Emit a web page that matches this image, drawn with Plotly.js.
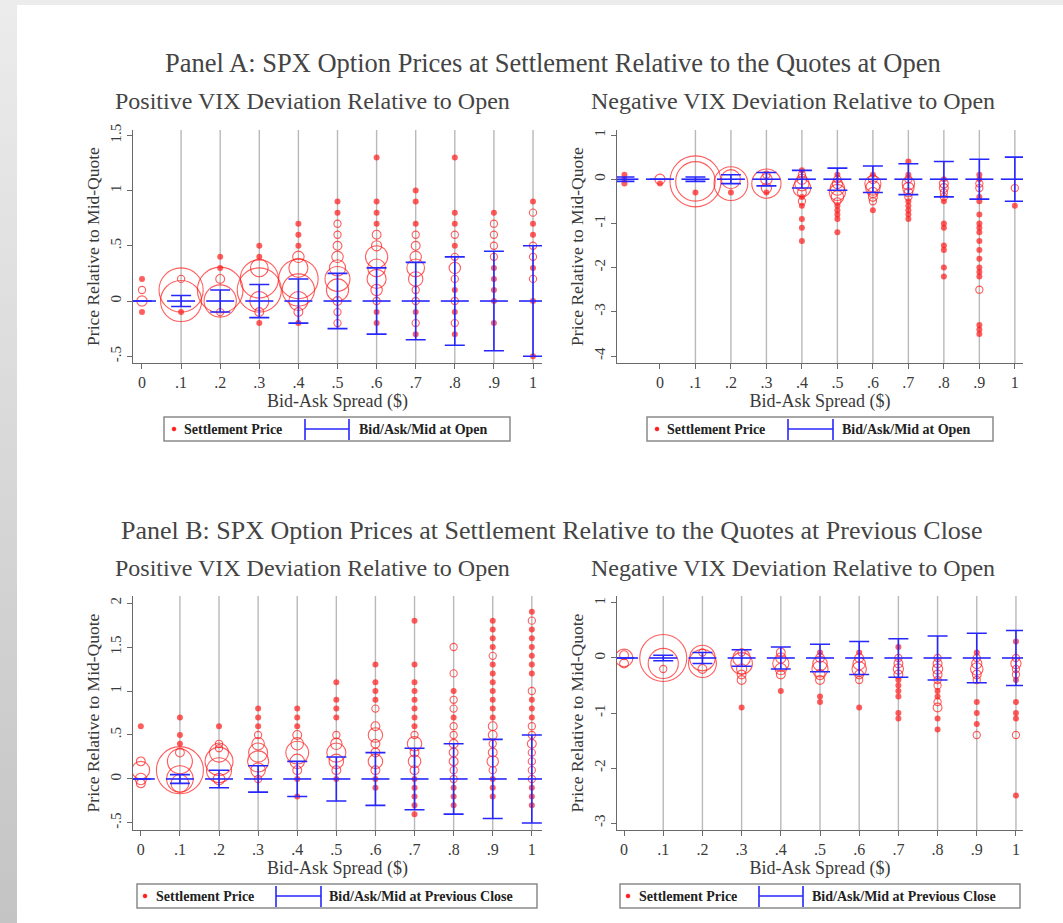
<!DOCTYPE html>
<html><head><meta charset="utf-8">
<script src="https://cdn.plot.ly/plotly-3.0.1.min.js"></script>
<style>
html,body{margin:0;padding:0;background:#fff;}
#wrap{position:relative;width:1063px;height:923px;overflow:hidden;background:#fff;}
#leftstrip{position:absolute;left:0;top:0;width:17px;height:923px;background:linear-gradient(#ececec,#c4c4c4);}
#topstrip{position:absolute;left:0;top:0;width:1063px;height:5px;background:#ececec;}
#chart{position:absolute;left:0;top:0;width:1063px;height:923px;}
</style></head><body>
<div id="wrap"><div id="leftstrip"></div><div id="topstrip"></div><div id="chart"></div></div>
<script>
// ---------- shared axis labels ----------
const spreadTicks = [0, 0.1, 0.2, 0.3, 0.4, 0.5, 0.6, 0.7, 0.8, 0.9, 1];
const spreadTickText = ['0', '.1', '.2', '.3', '.4', '.5', '.6', '.7', '.8', '.9', '1'];
const gridSpreads = [0.1, 0.2, 0.3, 0.4, 0.5, 0.6, 0.7, 0.8, 0.9, 1];

// ---------- Panel A, positive VIX deviation ----------
const aPosSpread = [0, 0.1, 0.2, 0.3, 0.4, 0.5, 0.6, 0.7, 0.8, 0.9, 1];
const aPosHalf   = [0, 0.05, 0.1, 0.15, 0.2, 0.25, 0.3, 0.35, 0.4, 0.45, 0.5];
const aPosMid    = [0, 0, 0, 0, 0, 0, 0, 0, 0, 0, 0];
const aPosY = [
  [0.2, 0.1, 0, -0.1],
  [0.2, 0.1, 0, -0.1],
  [0.4, 0.3, 0.2, 0.1, 0, -0.1],
  [0.5, 0.4, 0.3, 0.2, 0.1, 0, -0.1, -0.2],
  [0.7, 0.6, 0.5, 0.4, 0.3, 0.2, 0.1, 0, -0.1, -0.2],
  [0.9, 0.8, 0.7, 0.6, 0.5, 0.4, 0.3, 0.2, 0.1, 0, -0.1, -0.2],
  [1.3, 0.9, 0.8, 0.7, 0.6, 0.5, 0.4, 0.3, 0.2, 0.1, 0, -0.1, -0.2],
  [1.0, 0.9, 0.7, 0.6, 0.5, 0.4, 0.3, 0.2, 0.1, 0, -0.1, -0.2, -0.3],
  [1.3, 0.8, 0.7, 0.6, 0.5, 0.4, 0.3, 0.2, 0.1, 0, -0.1, -0.2, -0.3],
  [0.8, 0.7, 0.6, 0.5, 0.4, 0.3, 0.2, 0.1, 0, -0.2],
  [0.9, 0.8, 0.7, 0.6, 0.5, 0.4, 0.3, 0.2, 0, -0.5]
];
const aPosW = [
  [1, 2, 4, 1],
  [2, 75, 65, 1],
  [1, 1, 3, 80, 40, 2],
  [1, 1, 12, 56, 75, 14, 3, 1],
  [1, 1, 1, 5, 14, 60, 40, 14, 3, 1],
  [1, 1, 2, 2, 3, 5, 10, 24, 19, 3, 2, 2],
  [1, 1, 1, 1, 3, 4, 19, 12, 14, 5, 2, 1, 1],
  [1, 1, 1, 2, 3, 5, 12, 8, 2, 2, 1, 2, 1],
  [1, 1, 1, 2, 1, 2, 5, 2, 1, 2, 1, 2, 1],
  [1, 2, 2, 2, 2, 1, 1, 1, 1, 1],
  [1, 2, 1, 1, 2, 2, 1, 2, 1, 1]
];

// ---------- Panel A, negative VIX deviation ----------
const aNegSpread = [-0.1, 0, 0.1, 0.2, 0.3, 0.4, 0.5, 0.6, 0.7, 0.8, 0.9, 1];
const aNegHalf   = [0.05, 0, 0.05, 0.1, 0.15, 0.2, 0.25, 0.3, 0.35, 0.4, 0.45, 0.5];
const aNegMid    = [0, 0, 0, 0, 0, 0, 0, 0, 0, 0, 0, 0];
const aNegY = [
  [0.1, 0, -0.1],
  [0, -0.1],
  [-0.05, -0.05, -0.3],
  [0, -0.1, -0.3],
  [0.1, 0, -0.1, -0.2, -0.3],
  [0.2, 0.1, 0, -0.1, -0.2, -0.3, -0.4, -0.5, -0.6, -0.9, -1.1, -1.4],
  [0.1, 0, -0.1, -0.2, -0.3, -0.4, -0.5, -0.6, -0.7, -0.8, -0.9, -1.2],
  [0.1, 0, -0.1, -0.2, -0.3, -0.4, -0.5, -0.7],
  [0.4, 0.1, 0, -0.1, -0.2, -0.3, -0.4, -0.5, -0.6, -0.7, -0.8, -0.9],
  [0, -0.1, -0.2, -0.3, -0.4, -0.5, -1.0, -1.1, -1.5, -1.6, -2.0, -2.2],
  [0.1, 0, -0.1, -0.2, -0.4, -0.5, -0.8, -1.0, -1.1, -1.2, -1.4, -1.6, -1.8, -2.0, -2.1, -2.2, -2.5, -3.3, -3.4, -3.5],
  [-0.2, -0.6]
];
const aNegW = [
  [1, 1, 1],
  [4, 1],
  [100, 60, 1],
  [14, 44, 1],
  [2, 5, 33, 4, 1],
  [1, 2, 4, 8, 12, 3, 1, 2, 1, 1, 1, 1],
  [1, 2, 4, 8, 10, 6, 2, 1, 1, 1, 1, 1],
  [1, 3, 10, 8, 4, 3, 2, 1],
  [1, 1, 2, 6, 5, 3, 2, 1, 1, 1, 1, 1],
  [1, 3, 3, 2, 2, 1, 1, 1, 1, 1, 1, 1],
  [1, 1, 2, 2, 1, 1, 1, 1, 1, 1, 1, 1, 1, 1, 1, 1, 2, 1, 1, 1],
  [2, 1]
];

// ---------- Panel B, positive VIX deviation ----------
const bPosSpread = [0, 0.1, 0.2, 0.3, 0.4, 0.5, 0.6, 0.7, 0.8, 0.9, 1];
const bPosHalf   = [0, 0.05, 0.1, 0.15, 0.2, 0.25, 0.3, 0.35, 0.4, 0.45, 0.5];
const bPosMid    = [0, 0, 0, 0, 0, 0, 0, 0, 0, 0, 0];
const bPosY = [
  [0.6, 0.2, 0.1, 0, -0.05],
  [0.7, 0.5, 0.4, 0.3, 0.2, 0.1, 0, -0.05],
  [0.6, 0.4, 0.35, 0.3, 0.2, 0.1, 0],
  [0.8, 0.7, 0.6, 0.5, 0.4, 0.3, 0.2, 0.1, 0],
  [0.8, 0.7, 0.6, 0.5, 0.4, 0.3, 0.2, 0.1, 0, -0.2],
  [1.1, 0.9, 0.8, 0.7, 0.5, 0.4, 0.3, 0.2, 0.1, 0],
  [1.3, 1.1, 1.0, 0.9, 0.8, 0.6, 0.5, 0.4, 0.3, 0.2, 0.1, 0, -0.1],
  [1.8, 1.3, 1.1, 1.0, 0.9, 0.8, 0.7, 0.6, 0.5, 0.4, 0.3, 0.2, 0.1, 0, -0.1, -0.2, -0.3, -0.4],
  [1.5, 1.2, 1.0, 0.9, 0.8, 0.7, 0.6, 0.5, 0.4, 0.3, 0.2, 0.1, 0, -0.1, -0.2, -0.3],
  [1.8, 1.7, 1.6, 1.5, 1.4, 1.3, 1.2, 1.1, 1.0, 0.9, 0.8, 0.7, 0.6, 0.5, 0.4, 0.3, 0.2, 0.1, 0, -0.1, -0.2],
  [1.9, 1.8, 1.7, 1.6, 1.5, 1.4, 1.3, 1.2, 1.0, 0.9, 0.8, 0.7, 0.6, 0.5, 0.4, 0.3, 0.2, 0.1, 0, -0.1, -0.2, -0.3]
];
const bPosW = [
  [1, 3, 12, 5, 3],
  [1, 1, 1, 3, 24, 85, 27, 12],
  [1, 2, 2, 14, 30, 24, 5],
  [1, 1, 1, 2, 6, 14, 17, 8, 2],
  [1, 1, 1, 3, 6, 20, 8, 3, 1, 1],
  [1, 1, 1, 1, 2, 5, 14, 8, 3, 1],
  [1, 1, 1, 1, 2, 3, 8, 3, 3, 8, 3, 1, 1],
  [1, 1, 1, 1, 1, 1, 1, 1, 2, 8, 3, 6, 3, 1, 1, 1, 1, 1],
  [2, 2, 1, 2, 2, 1, 2, 2, 3, 3, 3, 2, 2, 1, 1, 1],
  [1, 1, 1, 1, 2, 1, 1, 1, 1, 1, 1, 1, 3, 3, 2, 3, 5, 2, 1, 1, 1],
  [1, 2, 1, 1, 1, 1, 1, 1, 2, 1, 1, 1, 2, 2, 3, 2, 2, 2, 2, 1, 1, 1]
];

// ---------- Panel B, negative VIX deviation ----------
const bNegSpread = [0, 0.1, 0.2, 0.3, 0.4, 0.5, 0.6, 0.7, 0.8, 0.9, 1];
const bNegHalf   = [0, 0.05, 0.1, 0.15, 0.2, 0.25, 0.3, 0.35, 0.4, 0.45, 0.5];
const bNegMid    = [0, 0, 0, 0, 0, 0, 0, 0, 0, 0, 0];
const bNegY = [
  [0.05, 0, -0.1],
  [0, -0.1, -0.2],
  [0.1, 0, -0.1, -0.2],
  [0.1, 0, -0.1, -0.2, -0.3, -0.4, -0.9],
  [0.1, 0, -0.1, -0.2, -0.3, -0.6],
  [0.1, 0, -0.1, -0.2, -0.3, -0.4, -0.7, -0.8],
  [0.1, 0, -0.1, -0.2, -0.3, -0.4, -0.9],
  [0.2, 0, -0.1, -0.2, -0.3, -0.4, -0.5, -0.6, -0.7, -1.0, -1.1],
  [0, -0.1, -0.2, -0.3, -0.4, -0.5, -0.6, -0.7, -0.8, -0.9, -1.1, -1.3],
  [0.1, 0, -0.1, -0.2, -0.3, -0.4, -0.8, -1.0, -1.2, -1.4],
  [0.3, 0, -0.1, -0.2, -0.3, -0.4, -0.8, -1.0, -1.1, -1.4, -2.5]
];
const bNegW = [
  [3, 12, 3],
  [85, 35, 2],
  [2, 25, 30, 3],
  [2, 12, 18, 4, 3, 3, 1],
  [3, 4, 10, 5, 3, 1],
  [1, 3, 8, 10, 4, 3, 1, 1],
  [1, 3, 6, 8, 3, 2, 1],
  [1, 2, 3, 4, 3, 1, 1, 1, 1, 1, 1],
  [2, 3, 4, 3, 2, 2, 1, 1, 2, 3, 1, 1],
  [1, 2, 4, 6, 3, 2, 1, 1, 1, 2],
  [1, 2, 4, 2, 2, 1, 1, 1, 1, 2, 1]
];

// ---------- text ----------
const panelATitle = 'Panel A: SPX Option Prices at Settlement Relative to the Quotes at Open';
const panelBTitle = 'Panel B: SPX Option Prices at Settlement Relative to the Quotes at Previous Close';
const subPos = 'Positive VIX Deviation Relative to Open';
const subNeg = 'Negative VIX Deviation Relative to Open';
const yTitle = 'Price Relative to Mid-Quote';
const xTitle = 'Bid-Ask Spread ($)';
const legSettle = 'Settlement Price';
const legOpen = 'Bid/Ask/Mid at Open';
const legClose = 'Bid/Ask/Mid at Previous Close';

// ---------- layout helpers ----------
const W = 1063, H = 923;
const px = v => v / W;
const py = v => 1 - v / H;
const RED = '#ff1a1a', BLUE = '#2626ff', AX = '#6a6a6a', TXT = '#3a3a3a';
const FONT = 'Liberation Serif, Times New Roman, serif';

const panels = [
  {id: '', spread: aPosSpread, half: aPosHalf, mid: aPosMid, ys: aPosY, ws: aPosW,
   xpx: [133, 542], ypx: [130, 363], xr: [-0.023, 1.023], yr: [-0.561, 1.548],
   yt: [-0.5, 0, 0.5, 1, 1.5], ytt: ['-.5', '0', '.5', '1', '1.5'],
   leg: {box: [164, 510, 417, 441], dot: 174, t1: 182, bar: [305, 349], t2: 357, txt: legOpen}},
  {id: '2', spread: aNegSpread, half: aNegHalf, mid: aNegMid, ys: aNegY, ws: aNegW,
   xpx: [617, 1023], ypx: [130, 363], xr: [-0.121, 1.023], yr: [-4.158, 1.113],
   yt: [-4, -3, -2, -1, 0, 1], ytt: ['-4', '-3', '-2', '-1', '0', '1'],
   leg: {box: [647, 993, 417, 441], dot: 657, t1: 665, bar: [788, 833], t2: 840, txt: legOpen}},
  {id: '3', spread: bPosSpread, half: bPosHalf, mid: bPosMid, ys: bPosY, ws: bPosW,
   xpx: [133, 542], ypx: [596, 830], xr: [-0.020, 1.026], yr: [-0.58, 2.08],
   yt: [-0.5, 0, 0.5, 1, 1.5, 2], ytt: ['-.5', '0', '.5', '1', '1.5', '2'],
   leg: {box: [137, 537, 884, 908], dot: 145, t1: 154, bar: [276, 321], t2: 327, txt: legClose}},
  {id: '4', spread: bNegSpread, half: bNegHalf, mid: bNegMid, ys: bNegY, ws: bNegW,
   xpx: [617, 1023], ypx: [596, 830], xr: [-0.018, 1.018], yr: [-3.127, 1.127],
   yt: [-3, -2, -1, 0, 1], ytt: ['-3', '-2', '-1', '0', '1'],
   leg: {box: [620, 1020, 884, 908], dot: 628, t1: 637, bar: [759, 803], t2: 810, txt: legClose}}
];

const data = [];
const layout = {
  width: W, height: H,
  margin: {l: 0, r: 0, t: 0, b: 0},
  paper_bgcolor: 'rgba(0,0,0,0)', plot_bgcolor: 'rgba(0,0,0,0)',
  showlegend: false,
  font: {family: FONT, color: TXT},
  shapes: [], annotations: []
};

panels.forEach(p => {
  const xa = 'x' + p.id, ya = 'y' + p.id;
  // flatten settlement points
  const sx = [], sy = [], sw = [], sym = [], lw = [];
  p.spread.forEach((s, i) => {
    p.ys[i].forEach((y, j) => {
      const w = p.ws[i][j];
      sx.push(s); sy.push(y); sw.push(w);
      sym.push(w <= 1 ? 'circle' : 'circle-open');
      lw.push(w <= 1 ? 0 : 1.1);
    });
  });
  data.push({
    type: 'scatter', mode: 'markers', xaxis: xa, yaxis: ya, name: legSettle,
    x: sx, y: sy, hoverinfo: 'x+y',
    marker: {symbol: sym, color: RED, size: sw, sizemode: 'area', sizeref: 1 / 13, sizemin: 3,
             line: {width: lw, color: RED}}
  });
  data.push({
    type: 'scatter', mode: 'markers', xaxis: xa, yaxis: ya, name: p.leg.txt,
    x: p.spread, y: p.mid,
    marker: {symbol: 'line-ew', size: 20, color: BLUE, line: {color: BLUE, width: 1.6}},
    error_y: {type: 'data', array: p.half, symmetric: true, color: BLUE, thickness: 1.6, width: 10}
  });

  const xk = 'xaxis' + p.id, yk = 'yaxis' + p.id;
  layout[xk] = {
    domain: [px(p.xpx[0]), px(p.xpx[1])], range: p.xr, anchor: ya,
    tickmode: 'array', tickvals: spreadTicks, ticktext: spreadTickText,
    ticks: 'outside', ticklen: 5, tickwidth: 1, tickcolor: AX,
    showline: true, linecolor: AX, linewidth: 1, showgrid: false, zeroline: false,
    tickfont: {family: FONT, size: 16, color: TXT},
    title: {text: xTitle, font: {family: FONT, size: 18, color: TXT}, standoff: 0},
    fixedrange: true
  };
  layout[yk] = {
    domain: [py(p.ypx[1]), py(p.ypx[0])], range: p.yr, anchor: xa,
    tickmode: 'array', tickvals: p.yt, ticktext: p.ytt, tickangle: -90,
    ticks: 'outside', ticklen: 5, tickwidth: 1, tickcolor: AX,
    showline: true, linecolor: AX, linewidth: 1, showgrid: false, zeroline: false,
    tickfont: {family: FONT, size: 15, color: TXT},
    title: {text: yTitle, font: {family: FONT, size: 17.5, color: TXT}, standoff: 3},
    fixedrange: true
  };
  // vertical grid lines at the spread ticks
  gridSpreads.forEach(g => {
    layout.shapes.push({type: 'line', layer: 'below', xref: xa, yref: ya + ' domain',
      x0: g, x1: g, y0: 0, y1: 1, line: {color: '#b9b9b9', width: 1.4}});
  });
  // legend box
  const L = p.leg, cy = (L.box[2] + L.box[3]) / 2;
  layout.shapes.push({type: 'rect', xref: 'paper', yref: 'paper',
    x0: px(L.box[0]), x1: px(L.box[1]), y0: py(L.box[3]), y1: py(L.box[2]),
    line: {color: '#8a8a8a', width: 1.5}, fillcolor: '#ffffff'});
  layout.shapes.push({type: 'circle', xref: 'paper', yref: 'paper',
    x0: px(L.dot - 2), x1: px(L.dot + 2), y0: py(cy + 2), y1: py(cy - 2),
    line: {color: RED, width: 0.5}, fillcolor: RED});
  layout.shapes.push({type: 'line', xref: 'paper', yref: 'paper',
    x0: px(L.bar[0]), x1: px(L.bar[1]), y0: py(cy), y1: py(cy), line: {color: BLUE, width: 1.6}});
  [L.bar[0], L.bar[1]].forEach(bx => layout.shapes.push({type: 'line', xref: 'paper', yref: 'paper',
    x0: px(bx), x1: px(bx), y0: py(L.box[2] + 2), y1: py(L.box[3] - 1), line: {color: BLUE, width: 1.6}}));
  layout.annotations.push({xref: 'paper', yref: 'paper', x: px(L.t1), y: py(cy), xanchor: 'left', yanchor: 'middle',
    showarrow: false, text: '<b>' + legSettle + '</b>', font: {family: FONT, size: 14, color: '#222'}});
  layout.annotations.push({xref: 'paper', yref: 'paper', x: px(L.t2), y: py(cy), xanchor: 'left', yanchor: 'middle',
    showarrow: false, text: '<b>' + L.txt + '</b>', font: {family: FONT, size: 14, color: '#222'}});
});

// titles
const titles = [
  {t: panelATitle, x: 553, y: 63, s: 26.5},
  {t: subPos, x: 312, y: 101, s: 24},
  {t: subNeg, x: 793, y: 101, s: 24},
  {t: panelBTitle, x: 552, y: 530, s: 26},
  {t: subPos, x: 312, y: 568, s: 24},
  {t: subNeg, x: 793, y: 568, s: 24}
];
titles.forEach(o => layout.annotations.push({xref: 'paper', yref: 'paper', x: px(o.x), y: py(o.y),
  xanchor: 'center', yanchor: 'middle', showarrow: false, text: o.t,
  font: {family: FONT, size: o.s, color: '#444'}}));

Plotly.newPlot('chart', data, layout, {displayModeBar: false, staticPlot: true});
</script>
</body></html>
